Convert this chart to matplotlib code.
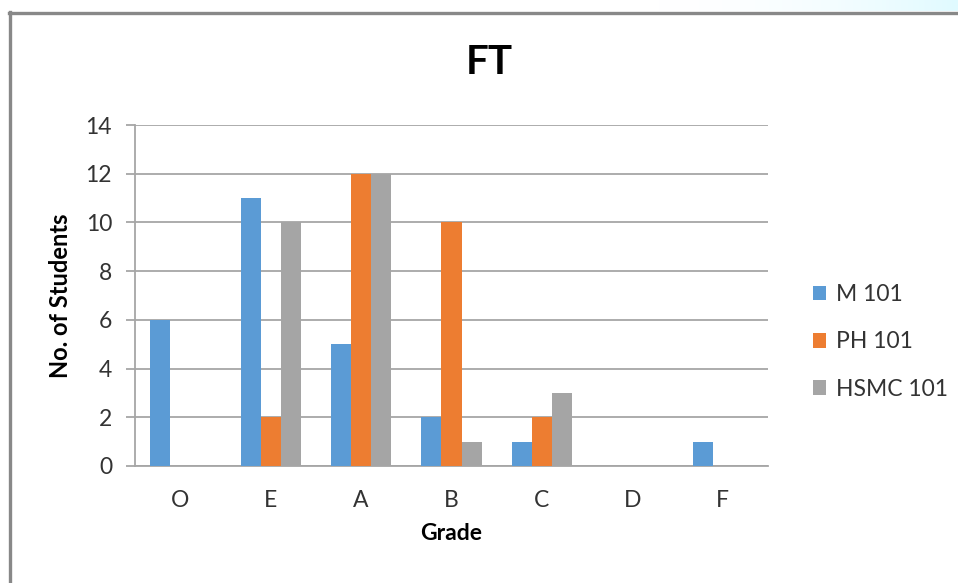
import matplotlib
matplotlib.use("Agg")
import matplotlib.pyplot as plt
from matplotlib.lines import Line2D
import numpy as np

plt.rcParams['font.family'] = ['Lato', 'DejaVu Sans']

grades = ['O', 'E', 'A', 'B', 'C', 'D', 'F']
series_names = ['M 101', 'PH 101', 'HSMC 101']
m101 = [6, 11, 5, 2, 1, 0, 1]
ph101 = [0, 2, 12, 10, 2, 0, 0]
hsmc101 = [0, 10, 12, 1, 3, 0, 0]
colors = ['#5B9BD5', '#ED7D31', '#A5A5A5']

W, H = 958, 583
fig = plt.figure(figsize=(W / 100, H / 100), dpi=100)

# faint window background above the frame (top right)
grad_ax = fig.add_axes([640 / W, 1 - 11 / H, 318 / W, 11 / H])
grad = np.linspace(0, 1, 256)[None, :] ** 2
grad_ax.imshow(grad, aspect='auto', cmap=matplotlib.colors.LinearSegmentedColormap.from_list('bg', ['#FFFFFF', '#E0FAFF']))
grad_ax.axis('off')

ax = fig.add_axes([135 / W, 117 / H, 633 / W, 341 / H])

x = np.arange(len(grades))
bw = 0.222
for i, (vals, name) in enumerate(zip([m101, ph101, hsmc101], series_names)):
    ax.bar(x + (i - 1) * bw, vals, bw, color=colors[i], label=name, linewidth=0, zorder=3)

ax.set_xlim(-0.5, len(grades) - 0.5)
ax.set_ylim(0, 14)
ax.set_yticks(range(0, 15, 2))
ax.set_xticks(x)
ax.set_xticklabels(grades)
ax.yaxis.grid(True, color='#A6A6A6', linewidth=1.3, zorder=0)
for s in ['top', 'right']:
    ax.spines[s].set_visible(False)
ax.spines['left'].set_color('#A6A6A6')
ax.spines['bottom'].set_color('#A6A6A6')
ax.spines['left'].set_linewidth(1.3)
ax.spines['bottom'].set_linewidth(1.3)
ax.tick_params(axis='y', length=6.5, width=1.3, color='#A6A6A6', pad=10, labelsize=16.5, labelcolor='#333333')
ax.tick_params(axis='x', length=0, pad=17, labelsize=16.5, labelcolor='#333333')

ax.set_xlabel('Grade', fontsize=16.5, fontweight='bold')
ax.set_ylabel('No. of Students', fontsize=17, fontweight='bold')
ax.xaxis.label.set_va('center')
ax.yaxis.label.set_va('center')
ax.xaxis.set_label_coords(0.5, -(533 - 466) / 341)
ax.yaxis.set_label_coords(-(135 - 61) / 633, 0.5)
fig.text(489 / W, 1 - 63 / H, 'FT', fontsize=29, fontweight='bold', ha='center', va='center')

leg = fig.legend(loc='center left', bbox_to_anchor=(792 / W, 1 - 342 / H), frameon=False,
                 fontsize=16.5, handlelength=0.6, handleheight=0.6, handletextpad=0.4,
                 labelspacing=1.15)
for t in leg.get_texts():
    t.set_color('#333333')

# screenshot frame
fig.add_artist(Line2D([10 / W, 10 / W], [0, 1 - 12 / H], color='#888888', linewidth=2.4, transform=fig.transFigure))
fig.add_artist(Line2D([9 / W, 1], [1 - 12.5 / H, 1 - 12.5 / H], color='#888888', linewidth=2.4, transform=fig.transFigure))

fig.savefig('out.png', dpi=100)
